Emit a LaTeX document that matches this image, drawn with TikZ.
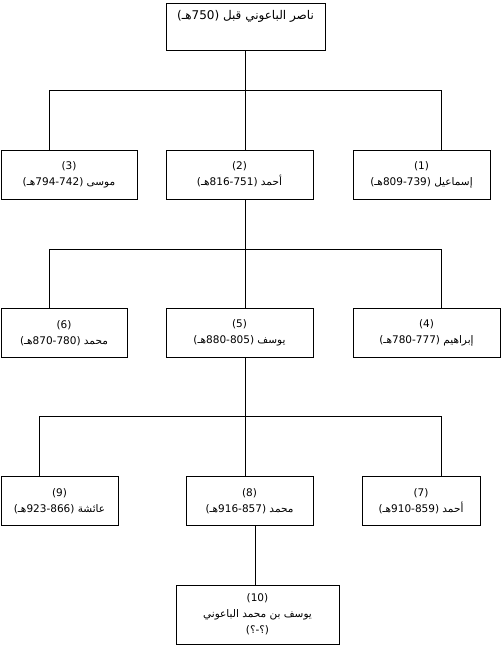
\documentclass[tikz,border=0pt]{standalone}
\usepackage{fontspec}
\newfontfamily\arabicfont[Script=Arabic]{DejaVu Sans}
\TeXXeTstate=1
\usepackage{tikz}
\usetikzlibrary{positioning}
\newcommand{\rtltext}[1]{\beginR #1\endR}
\tikzset{
	personbox/.style={
			rectangle,
			draw=black,
			line width=0.8pt,
			fill=white,
			inner sep=0pt,
			align=center,
			minimum height=49pt,
			font=\arabicfont\fontsize{10.5}{16}\selectfont
		},
	rootbox/.style={
			personbox,
			minimum height=47pt,
			text height=11pt,
			text depth=26pt,
			font=\arabicfont\fontsize{12}{14}\selectfont
		},
	branchline/.style={
			draw=black,
			line width=0.8pt
		}
}

\begin{document}
\begin{tikzpicture}[x=1pt, y=-1pt]
\useasboundingbox (0,0) rectangle (501,646);

\node[rootbox, minimum width=159pt] (p0) at (245.5,26.5) {\rtltext{ناصر الباعوني قبل (750هـ)}};

\node[personbox, minimum width=136pt] (p3) at (69,174.5) {(3)\\\rtltext{موسى (794-742هـ)}};
\node[personbox, minimum width=147pt] (p2) at (239.5,174.5) {(2)\\\rtltext{أحمد (816-751هـ)}};
\node[personbox, minimum width=137pt] (p1) at (421.5,174.5) {(1)\\\rtltext{إسماعيل (809-739هـ)}};

\node[personbox, minimum width=126pt] (p6) at (64,333) {(6)\\\rtltext{محمد (870-780هـ)}};
\node[personbox, minimum width=147pt] (p5) at (239.5,333) {(5)\\\rtltext{يوسف (880-805هـ)}};
\node[personbox, minimum width=147pt] (p4) at (426.5,333) {(4)\\\rtltext{إبراهيم (780-777هـ)}};

\node[personbox, minimum width=117pt] (p9) at (59.5,501) {(9)\\\rtltext{عائشة (923-866هـ)}};
\node[personbox, minimum width=127pt] (p8) at (249.5,501) {(8)\\\rtltext{محمد (916-857هـ)}};
\node[personbox, minimum width=118pt] (p7) at (421,501) {(7)\\\rtltext{أحمد (910-859هـ)}};

\node[personbox, minimum width=163pt, minimum height=59pt] (p10) at (257.5,614.5) {(10)\\\rtltext{يوسف بن محمد الباعوني}\\\rtltext{(؟-؟)}};

% first generation
\coordinate (a1) at (49,90);
\coordinate (a2) at (245.5,90);
\coordinate (a3) at (441,90);
\draw[branchline] (p0.south) -- (a2);
\draw[branchline] (a1) -- (a3);
\draw[branchline] (a1) -- (a1 |- p3.north);
\draw[branchline] (a2) -- (a2 |- p2.north);
\draw[branchline] (a3) -- (a3 |- p1.north);

% second generation
\coordinate (b1) at (49,249);
\coordinate (b2) at (245.5,249);
\coordinate (b3) at (441,249);
\draw[branchline] (b2 |- p2.south) -- (b2);
\draw[branchline] (b1) -- (b3);
\draw[branchline] (b1) -- (b1 |- p6.north);
\draw[branchline] (b2) -- (b2 |- p5.north);
\draw[branchline] (b3) -- (b3 |- p4.north);

% third generation
\coordinate (c1) at (39,416);
\coordinate (c2) at (245.5,416);
\coordinate (c3) at (441,416);
\draw[branchline] (c2 |- p5.south) -- (c2);
\draw[branchline] (c1) -- (c3);
\draw[branchline] (c1) -- (c1 |- p9.north);
\draw[branchline] (c2) -- (c2 |- p8.north);
\draw[branchline] (c3) -- (c3 |- p7.north);

% last one
\coordinate (d1) at (255,526);
\draw[branchline] (d1 |- p8.south) -- (d1 |- p10.north);

\end{tikzpicture}
\end{document}
